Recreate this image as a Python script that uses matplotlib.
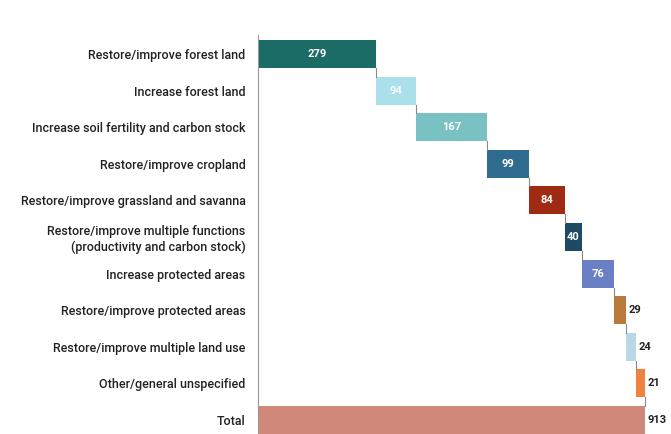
import numpy as np
import matplotlib.pyplot as plt

plt.rcParams['font.family'] = ['Roboto', 'DejaVu Sans']

# restoration commitments by type
categories = [
    'Restore/improve forest land',
    'Increase forest land',
    'Increase soil fertility and carbon stock',
    'Restore/improve cropland',
    'Restore/improve grassland and savanna',
    'Restore/improve multiple functions\n(productivity and carbon stock)',
    'Increase protected areas',
    'Restore/improve protected areas',
    'Restore/improve multiple land use',
    'Other/general unspecified',
]
values = [279, 94, 167, 99, 84, 40, 76, 29, 24, 21]
colors = ['#1b6b66', '#a9e0ea', '#79c1c2', '#2f6b8f', '#a12a12',
          '#1e4a63', '#6b80c4', '#b8793a', '#b9d8e6', '#f0823f']
total_color = '#d0887a'

values = np.array(values)
starts = np.concatenate([[0], np.cumsum(values)[:-1]])
total = values.sum()

fig = plt.figure(figsize=(6.71, 4.34), dpi=100)
ax = fig.add_axes([258 / 671, 0, 413 / 671, 399 / 434])

h = 0.765
n = len(values)
ax.barh(range(n), values, left=starts, height=h, color=colors)
ax.barh(n, total, height=h, color=total_color)

# connectors between steps
for i in range(n):
    x = starts[i] + values[i]
    ax.plot([x, x], [i + h / 2, i + 1 - h / 2], color='#888888', lw=0.8)

for i, v in enumerate(values):
    if v >= 40:
        ax.text(starts[i] + v / 2, i, str(v), ha='center', va='center',
                color='white', fontsize=8, fontweight='bold')
    else:
        ax.text(starts[i] + v + 5, i, str(v), ha='left', va='center',
                color='#222222', fontsize=8, fontweight='bold')
ax.text(total + 5, n, str(total), ha='left', va='center',
        color='#222222', fontsize=8, fontweight='bold')

ax.set_yticks(range(n + 1))
ax.set_yticklabels(categories + ['Total'], fontsize=9, color='#222222',
                   fontweight='medium')
ax.tick_params(axis='y', length=0, pad=9)
ax.set_xticks([])
ax.set_xlim(0, 974)
ax.set_ylim(10.38, -0.52)

for s in ['top', 'right', 'bottom']:
    ax.spines[s].set_visible(False)
ax.spines['left'].set_color('#999999')
ax.spines['left'].set_linewidth(0.8)

fig.savefig('out.png', dpi=100)
